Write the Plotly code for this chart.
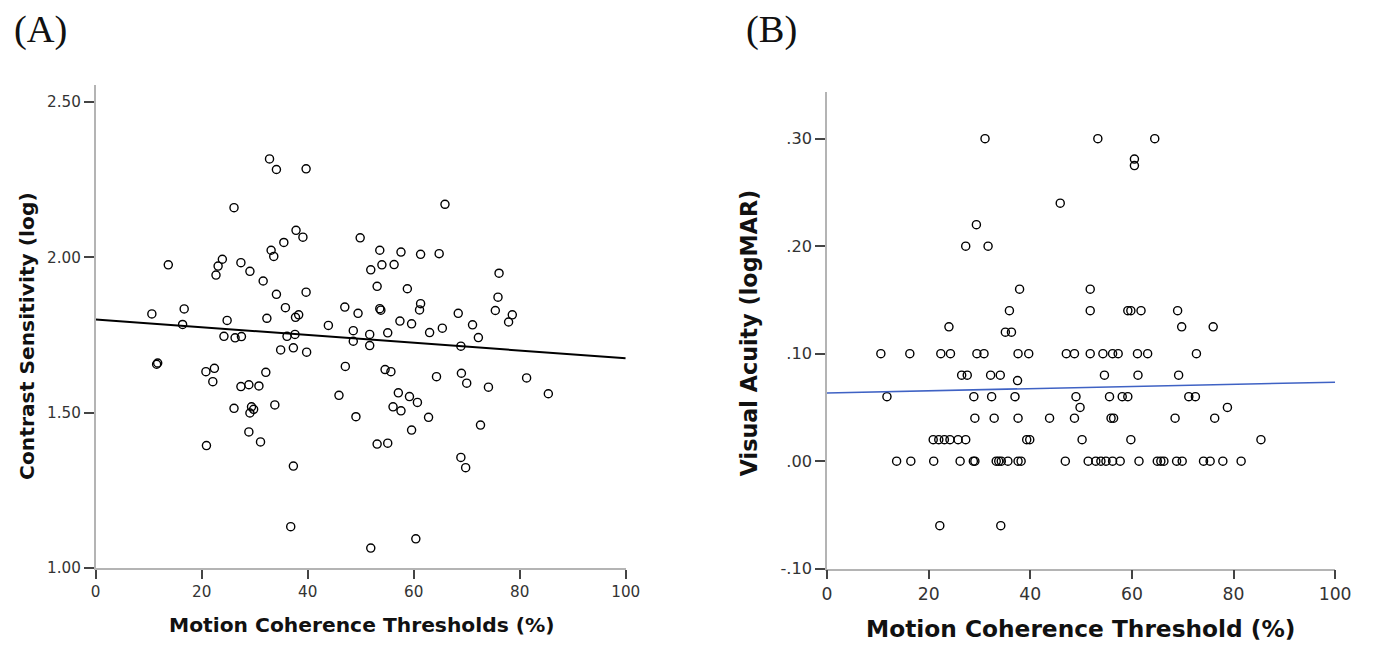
import plotly.graph_objects as go

# ---------------- Panel A data ----------------
a_x = [32.8, 34.1, 39.7, 26.1, 37.8, 39.1, 35.5, 49.9, 33.1, 33.6, 23.9, 23.1, 22.7, 13.7, 27.4, 29.1,
       31.6, 34.1, 39.7, 35.8, 37.7, 38.3, 10.6, 16.7, 16.4, 24.8, 32.3, 43.9, 47.0, 49.5, 48.6, 24.2,
       26.3, 27.5, 36.1, 37.6, 65.9, 53.6, 57.6, 61.3, 64.8, 51.9, 54.0, 56.3, 76.1, 53.1, 58.8, 75.9,
       53.6, 53.8, 61.3, 61.1, 68.4, 75.4, 78.6, 77.9, 57.4, 59.6, 65.4, 63.0, 71.1, 51.7, 55.1, 72.2,
       34.9, 37.3, 39.8, 48.6, 47.1, 45.9, 49.1, 11.5, 20.8, 22.4, 22.1, 32.1, 27.4, 28.9, 30.8, 26.1,
       29.4, 29.8, 29.1, 33.8, 28.9, 31.1, 20.9, 37.3, 36.8, 51.7, 68.9, 54.6, 55.7, 64.3, 69.0, 70.0,
       74.1, 81.3, 85.4, 57.1, 59.2, 60.7, 56.1, 57.6, 62.8, 59.6, 72.6, 53.1, 55.1, 68.9, 69.8, 60.4,
       51.9, 11.7]
a_y = [2.317, 2.283, 2.285, 2.160, 2.087, 2.065, 2.048, 2.063, 2.023, 2.003, 1.994, 1.972, 1.943, 1.976,
       1.983, 1.955, 1.924, 1.881, 1.888, 1.838, 1.807, 1.815, 1.818, 1.834, 1.784, 1.797, 1.804, 1.781,
       1.840, 1.820, 1.764, 1.746, 1.741, 1.745, 1.746, 1.752, 2.171, 2.023, 2.017, 2.010, 2.012, 1.960,
       1.976, 1.977, 1.949, 1.907, 1.899, 1.872, 1.835, 1.830, 1.851, 1.831, 1.820, 1.829, 1.815, 1.792,
       1.795, 1.786, 1.772, 1.758, 1.783, 1.752, 1.757, 1.742, 1.702, 1.709, 1.695, 1.730, 1.649, 1.556,
       1.487, 1.656, 1.632, 1.643, 1.600, 1.630, 1.584, 1.590, 1.586, 1.514, 1.519, 1.511, 1.499, 1.525,
       1.438, 1.406, 1.394, 1.328, 1.133, 1.716, 1.714, 1.639, 1.632, 1.616, 1.627, 1.595, 1.582, 1.612,
       1.561, 1.564, 1.552, 1.533, 1.519, 1.506, 1.485, 1.444, 1.460, 1.399, 1.402, 1.356, 1.323, 1.094,
       1.064, 1.660]
a_fit_x = [0, 100]
a_fit_y = [1.800, 1.675]

# ---------------- Panel B data ----------------
b_x = [31.1, 53.3, 64.5,
       60.5, 60.5,
       45.9, 29.4, 27.3, 31.7,
       37.9, 51.8,
       35.9, 51.8, 59.2, 59.8, 61.8, 69.0,
       24.0, 69.8, 76.0,
       35.1, 36.3,
       10.6, 16.3, 22.4, 24.3, 29.5, 30.9, 37.6, 39.7, 47.1, 48.7, 51.8, 54.3, 56.2, 57.3, 61.1, 63.1, 72.7,
       26.5, 27.6, 32.2, 34.1, 54.6, 61.2, 69.2,
       37.5,
       11.8, 28.9, 32.4, 37.0, 49.0, 55.6, 58.1, 59.2, 71.2, 72.5,
       49.8, 78.8,
       29.1, 32.9, 37.6, 43.8, 48.7, 55.9, 56.4, 68.5, 76.3,
       20.9, 22.0, 23.1, 24.2, 25.8, 27.3, 39.3, 39.9, 50.2, 59.8, 85.4,
       13.7, 16.5, 21.0, 26.2, 28.8, 29.1, 33.3, 33.8, 34.3, 35.6, 37.6, 38.2, 46.9, 51.4,
       52.9, 53.9, 54.9, 56.2, 57.7, 61.4, 65.0, 65.7, 66.3, 68.8, 69.9, 74.1, 75.4, 77.9, 81.5,
       22.2, 34.2]
b_y = [0.30, 0.30, 0.30,
       0.281, 0.275,
       0.24, 0.22, 0.20, 0.20,
       0.16, 0.16,
       0.14, 0.14, 0.14, 0.14, 0.14, 0.14,
       0.125, 0.125, 0.125,
       0.12, 0.12,
       0.10, 0.10, 0.10, 0.10, 0.10, 0.10, 0.10, 0.10, 0.10, 0.10, 0.10, 0.10, 0.10, 0.10, 0.10, 0.10, 0.10,
       0.08, 0.08, 0.08, 0.08, 0.08, 0.08, 0.08,
       0.075,
       0.06, 0.06, 0.06, 0.06, 0.06, 0.06, 0.06, 0.06, 0.06, 0.06,
       0.05, 0.05,
       0.04, 0.04, 0.04, 0.04, 0.04, 0.04, 0.04, 0.04, 0.04,
       0.02, 0.02, 0.02, 0.02, 0.02, 0.02, 0.02, 0.02, 0.02, 0.02, 0.02,
       0.0, 0.0, 0.0, 0.0, 0.0, 0.0, 0.0, 0.0, 0.0, 0.0, 0.0, 0.0, 0.0, 0.0,
       0.0, 0.0, 0.0, 0.0, 0.0, 0.0, 0.0, 0.0, 0.0, 0.0, 0.0, 0.0, 0.0, 0.0, 0.0,
       -0.06, -0.06]
b_fit_x = [0, 100]
b_fit_y = [0.0635, 0.0735]

# ---------------- Tick labels ----------------
x_ticks = [0, 20, 40, 60, 80, 100]
x_ticktext = ["0", "20", "40", "60", "80", "100"]
a_yticks = [1.0, 1.5, 2.0, 2.5]
a_yticktext = ["1.00", "1.50", "2.00", "2.50"]
b_yticks = [-0.1, 0.0, 0.1, 0.2, 0.3]
b_yticktext = ["-.10", ".00", ".10", ".20", ".30"]

# reference picture size (positions below are read in these pixels)
W, H = 1373, 645
# page size actually captured by the viewer (measured with a test frame)
FW, FH = 1389, 655
S = 1.013  # font / stroke compensation for the capture down-scaling


def px(x):
    return x / W


def py(y):
    return 1 - y / H


fig = go.Figure()
marker = dict(symbol="circle-open", size=8 * S, color="black", line=dict(width=1.4, color="black"))
fig.add_trace(go.Scatter(x=a_x, y=a_y, mode="markers", marker=marker, xaxis="x", yaxis="y",
                         showlegend=False, hoverinfo="x+y"))
fig.add_trace(go.Scatter(x=a_fit_x, y=a_fit_y, mode="lines", line=dict(color="black", width=2),
                         xaxis="x", yaxis="y", showlegend=False))
fig.add_trace(go.Scatter(x=b_x, y=b_y, mode="markers", marker=marker, xaxis="x2", yaxis="y2",
                         showlegend=False, hoverinfo="x+y"))
fig.add_trace(go.Scatter(x=b_fit_x, y=b_fit_y, mode="lines", line=dict(color="#3f62c4", width=1.6),
                         xaxis="x2", yaxis="y2", showlegend=False))

axis_common = dict(showgrid=False, zeroline=False, showline=True, linecolor="#b4b4b4", linewidth=1.5,
                   ticks="outside", tickcolor="#444", tickwidth=1.5, fixedrange=True)

fig.update_layout(
    width=FW, height=FH, margin=dict(l=0, r=0, t=0, b=0),
    paper_bgcolor="white", plot_bgcolor="white",
    xaxis=dict(domain=[px(91), px(623)], range=[0, 100], anchor="y", tickvals=x_ticks, ticktext=x_ticktext,
               ticklen=9, tickfont=dict(family="DejaVu Sans", size=15 * S, color="#333"), **axis_common),
    yaxis=dict(domain=[py(568), py(85)], range=[1.0, 2.555], anchor="x", tickvals=a_yticks,
               ticktext=a_yticktext, ticklen=10,
               tickfont=dict(family="DejaVu Sans", size=15 * S, color="#333"), **axis_common),
    xaxis2=dict(domain=[px(825), px(1335)], range=[0, 100], anchor="y2", tickvals=x_ticks,
                ticktext=x_ticktext, ticklen=9,
                tickfont=dict(family="DejaVu Sans", size=17 * S, color="#333"), **axis_common),
    yaxis2=dict(domain=[py(568.7), py(91.7)], range=[-0.1, 0.3437], anchor="x2", tickvals=b_yticks,
                ticktext=b_yticktext, ticklen=10,
                tickfont=dict(family="DejaVu Sans", size=16 * S, color="#333"), **axis_common),
)

ann = [
    dict(text="(A)", x=px(36), y=py(29), font=dict(family="Liberation Serif", size=38 * S, color="#111")),
    dict(text="(B)", x=px(769), y=py(29), font=dict(family="Liberation Serif", size=38 * S, color="#111")),
    dict(text="<b>Motion Coherence Thresholds (%)</b>", x=px(358), y=py(625),
         font=dict(family="DejaVu Sans", size=20 * S, color="#111")),
    dict(text="<b>Contrast Sensitivity (log)</b>", x=px(22), y=py(336), textangle=-90,
         font=dict(family="DejaVu Sans", size=20 * S, color="#111")),
    dict(text="<b>Motion Coherence Threshold (%)</b>", x=px(1079), y=py(628),
         font=dict(family="DejaVu Sans", size=23 * S, color="#111")),
    dict(text="<b>Visual Acuity (logMAR)</b>", x=px(747), y=py(333), textangle=-90,
         font=dict(family="DejaVu Sans", size=22 * S, color="#111")),
]
for a in ann:
    fig.add_annotation(xref="paper", yref="paper", showarrow=False, xanchor="center", yanchor="middle", **a)

fig.write_html("out.html", config={"displayModeBar": False},
               post_script="document.body.style.margin='0';")
